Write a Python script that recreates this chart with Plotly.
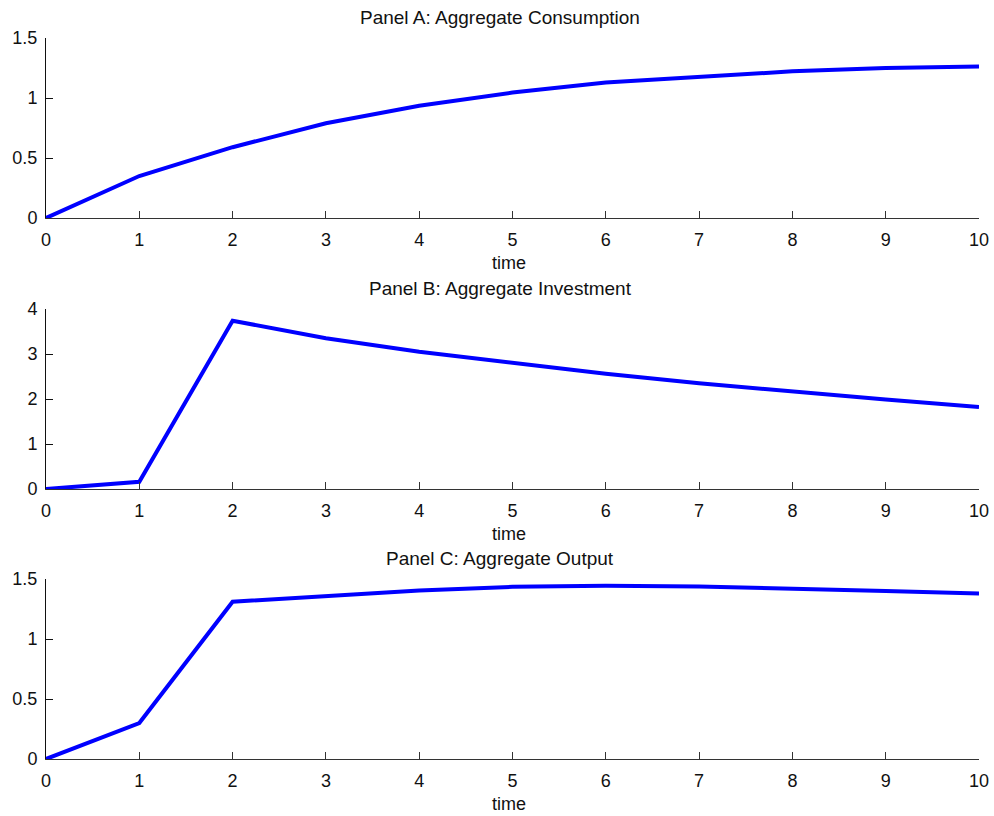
import plotly.graph_objects as go

# Impulse responses over time
time = [0, 1, 2, 3, 4, 5, 6, 7, 8, 9, 10]
consumption = [0, 0.35, 0.59, 0.79, 0.935, 1.045, 1.13, 1.18, 1.222, 1.25, 1.263]
investment = [0, 0.16, 3.74, 3.35, 3.05, 2.80, 2.56, 2.35, 2.16, 1.99, 1.82]
output = [0, 0.30, 1.31, 1.36, 1.405, 1.435, 1.443, 1.438, 1.422, 1.40, 1.38]

titles = ["Panel A: Aggregate Consumption",
          "Panel B: Aggregate Investment",
          "Panel C: Aggregate Output"]
series = [consumption, investment, output]
y_ranges = [[0, 1.5], [0, 4], [0, 1.5]]
y_ticks = [[0, 0.5, 1, 1.5], [0, 1, 2, 3, 4], [0, 0.5, 1, 1.5]]
x_ticks = list(range(0, 11))

W, H = 994, 816
ML, MR, MT, MB = 46, 15, 38, 57
PW = W - ML - MR
PH = H - MT - MB

# vertical extent (pixel rows) of each panel
rows_px = [(38, 218), (309, 489), (579, 759)]


def to_paper(py):
    return (H - MB - py) / PH


def to_paper_x(px):
    return (px - ML) / PW


FONT = "Liberation Sans, Arial, sans-serif"
FS = 18

fig = go.Figure()
for i, (ys, yr, yt) in enumerate(zip(series, y_ranges, y_ticks)):
    n = "" if i == 0 else str(i + 1)
    fig.add_trace(go.Scatter(
        x=time, y=ys, mode="lines",
        line=dict(color="#0000FF", width=4),
        xaxis="x" + n, yaxis="y" + n, showlegend=False,
    ))
    top, bot = rows_px[i]
    fig.layout["xaxis" + n] = dict(
        domain=[0, 1], range=[0, 10], anchor="y" + n,
        tickmode="array", tickvals=x_ticks,
        ticks="inside", ticklen=7, tickcolor="#333", tickwidth=1,
        ticklabelstandoff=5,
        showline=True, linecolor="#333", linewidth=1, mirror=False,
        showgrid=False, zeroline=False, fixedrange=True,
        tickfont=dict(family=FONT, size=FS, color="#111"),
    )
    fig.layout["yaxis" + n] = dict(
        domain=[to_paper(bot), to_paper(top)], range=yr, anchor="x" + n,
        tickmode="array", tickvals=yt,
        ticks="inside", ticklen=7, tickcolor="#111", tickwidth=1,
        ticklabelstandoff=4,
        showline=True, linecolor="#111", linewidth=1, mirror=False,
        showgrid=False, zeroline=False, fixedrange=True,
        tickfont=dict(family=FONT, size=FS, color="#111"),
    )
    # panel title
    fig.add_annotation(
        text=titles[i], x=to_paper_x(500), xref="paper", y=to_paper(top - 21),
        yref="paper", xanchor="center", yanchor="middle", showarrow=False,
        font=dict(family=FONT, size=19, color="#111"),
    )
    # x-axis label
    fig.add_annotation(
        text="time", x=to_paper_x(509), xref="paper", y=to_paper(bot + 45),
        yref="paper", xanchor="center", yanchor="middle", showarrow=False,
        font=dict(family=FONT, size=FS, color="#111"),
    )

fig.update_layout(
    width=W, height=H,
    margin=dict(l=ML, r=MR, t=MT, b=MB, autoexpand=False),
    paper_bgcolor="white", plot_bgcolor="white",
)

fig.write_html("out.html", include_plotlyjs=True)
